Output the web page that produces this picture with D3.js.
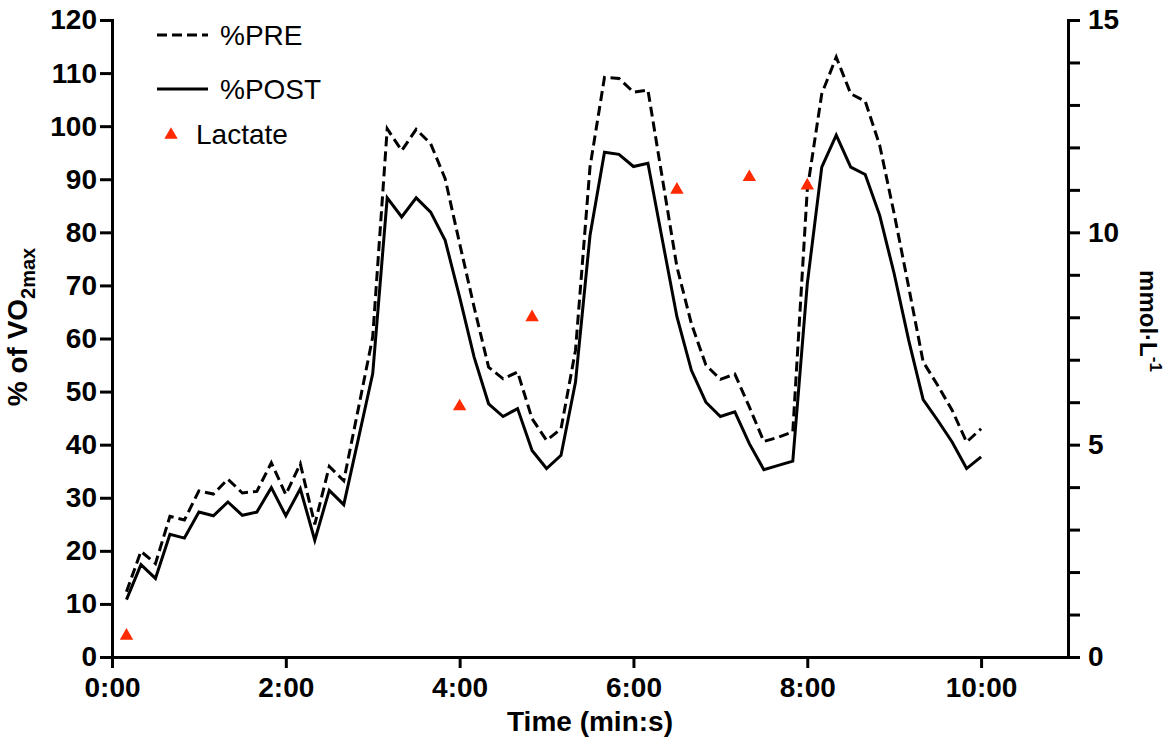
<!DOCTYPE html>
<html>
<head>
<meta charset="utf-8">
<script src="https://cdn.jsdelivr.net/npm/d3@7"></script>
<style>
  body { margin: 0; background: #fff; }
  svg { display: block; font-family: "Liberation Sans", Arial, Helvetica, sans-serif; }
</style>
</head>
<body>
<svg width="1168" height="742"></svg>
<script>
// time of each sample, seconds
const times = [10, 20, 30, 40, 50, 60, 70, 80, 90, 100,
  110, 120, 130, 140, 150, 160, 170, 180, 190, 200,
  210, 220, 230, 240, 250, 260, 270, 280, 290, 300,
  310, 320, 330, 340, 350, 360, 370, 380, 390, 400,
  410, 420, 430, 440, 450, 460, 470, 480, 490, 500,
  510, 520, 530, 540, 550, 560, 570, 580, 590, 600];

// % of VO2max, pre
const preValues = [12.3, 19.9, 17.6, 26.5, 25.8, 31.3, 30.7, 33.5, 30.9, 31.2,
  36.6, 30.6, 36.4, 25.0, 35.9, 33.2, 46.7, 60.3, 99.5, 95.4,
  99.4, 96.7, 90.1, 77.9, 65.9, 54.6, 52.4, 53.7, 44.9, 40.8,
  43.0, 57.8, 92.3, 109.2, 109.0, 106.4, 106.8, 90.1, 73.5, 62.8,
  55.0, 52.3, 53.3, 47.1, 40.6, 41.4, 42.4, 88.0, 106.1, 113.0,
  106.1, 104.7, 96.4, 83.5, 69.7, 55.6, 51.2, 46.5, 40.5, 43.0];

// % of VO2max, post
const postValues = [10.8, 17.4, 14.8, 23.1, 22.4, 27.3, 26.6, 29.2, 26.7, 27.3,
  31.9, 26.6, 31.7, 22.0, 31.4, 28.7, 41.0, 53.4, 86.5, 82.9,
  86.5, 83.8, 78.5, 67.8, 56.5, 47.7, 45.3, 46.8, 38.9, 35.5,
  38.0, 51.8, 79.4, 95.1, 94.7, 92.4, 93.0, 78.5, 64.1, 54.0,
  48.0, 45.3, 46.2, 40.2, 35.3, 36.1, 36.9, 70.3, 92.3, 98.3,
  92.3, 90.9, 83.2, 72.2, 59.7, 48.5, 44.6, 40.5, 35.5, 37.7];

// lactate, mmol/L
const lactateTimes = [10, 240, 290, 390, 440, 480];
const lactateValues = [0.5, 5.9, 8.0, 11.0, 11.3, 11.1];

const xTicks = [0, 120, 240, 360, 480, 600];
const yTicks = [0, 10, 20, 30, 40, 50, 60, 70, 80, 90, 100, 110, 120];
const yRightTicks = [0, 1, 2, 3, 4, 5, 6, 7, 8, 9, 10, 11, 12, 13, 14, 15];
const yRightLabels = [0, 5, 10, 15];

(function () {
  const svg = d3.select('svg');
  const red = '#ff2a00';

  const plotLeft = 112, plotRight = 1068, plotTop = 20, plotBottom = 657;

  const x = d3.scaleLinear().domain([0, 660]).range([plotLeft, plotRight]);
  const y = d3.scaleLinear().domain([0, 120]).range([plotBottom, plotTop]);
  const yR = d3.scaleLinear().domain([0, 15]).range([plotBottom, plotTop]);

  const fmtTime = s => `${Math.floor(s / 60)}:${String(s % 60).padStart(2, '0')}`;

  const styleAxis = g => {
    g.selectAll('.domain').attr('stroke-width', 3).attr('stroke-linecap', 'square');
    g.selectAll('.tick line').attr('stroke-width', 3);
    g.selectAll('.tick text')
      .attr('font-size', 28)
      .attr('font-weight', 'bold')
      .attr('fill', '#000')
      .attr('font-family', '"Liberation Sans", Arial, sans-serif');
  };

  // axes
  svg.append('g')
      .attr('transform', `translate(0,${plotBottom})`)
      .call(d3.axisBottom(x).tickValues(xTicks).tickFormat(fmtTime)
        .tickSize(11).tickSizeOuter(0).tickPadding(9))
      .call(styleAxis);

  svg.append('g')
      .attr('transform', `translate(${plotLeft},0)`)
      .call(d3.axisLeft(y).tickValues(yTicks).tickSize(12).tickSizeOuter(0).tickPadding(3))
      .call(styleAxis);

  svg.append('g')
      .attr('transform', `translate(${plotRight},0)`)
      .call(d3.axisRight(yR).tickValues(yRightTicks)
        .tickFormat(d => yRightLabels.includes(d) ? d : '')
        .tickSize(12).tickSizeOuter(0).tickPadding(8))
      .call(styleAxis);

  // lines
  const rows = times.map((t, i) => ({ t, pre: preValues[i], post: postValues[i] }));

  svg.append('path')
      .datum(rows)
      .attr('fill', 'none')
      .attr('stroke', '#000')
      .attr('stroke-width', 3)
      .attr('stroke-dasharray', '10,5')
      .attr('d', d3.line().x(d => x(d.t)).y(d => y(d.pre)));

  svg.append('path')
      .datum(rows)
      .attr('fill', 'none')
      .attr('stroke', '#000')
      .attr('stroke-width', 3)
      .attr('d', d3.line().x(d => x(d.t)).y(d => y(d.post)));

  // lactate triangles
  const tri = d3.symbol().type(d3.symbolTriangle).size(78);
  svg.selectAll('.lac')
    .data(lactateTimes.map((t, i) => ({ t, v: lactateValues[i] })))
    .enter().append('path')
      .attr('class', 'lac')
      .attr('transform', d => `translate(${x(d.t)},${yR(d.v)})`)
      .attr('d', tri)
      .attr('fill', red);

  // axis titles
  svg.append('text')
      .attr('transform', 'rotate(-90)')
      .attr('x', -327).attr('y', 27)
      .attr('text-anchor', 'middle')
      .attr('font-size', 28)
      .attr('font-weight', 'bold')
      .text('% of VO')
    .append('tspan')
      .attr('font-size', 20)
      .attr('dy', 8)
      .text('2max');

  svg.append('text')
      .attr('x', (plotLeft + plotRight) / 2).attr('y', 731)
      .attr('text-anchor', 'middle')
      .attr('font-size', 28)
      .attr('font-weight', 'bold')
      .text('Time (min:s)');

  svg.append('text')
      .attr('transform', 'rotate(90)')
      .attr('x', 321).attr('y', -1140)
      .attr('text-anchor', 'middle')
      .attr('font-size', 24)
      .attr('font-weight', 'bold')
      .text('mmol·L')
    .append('tspan')
      .attr('font-size', 17)
      .attr('dy', -10)
      .text('-1');

  // legend
  const legend = svg.append('g');
  legend.append('line')
      .attr('x1', 157).attr('x2', 208).attr('y1', 35).attr('y2', 35)
      .attr('stroke', '#000').attr('stroke-width', 3).attr('stroke-dasharray', '10,5');
  legend.append('text').attr('x', 220).attr('y', 45).attr('font-size', 28).text('%PRE');

  legend.append('line')
      .attr('x1', 157).attr('x2', 208).attr('y1', 89).attr('y2', 89)
      .attr('stroke', '#000').attr('stroke-width', 3);
  legend.append('text').attr('x', 220).attr('y', 99).attr('font-size', 28).text('%POST');

  legend.append('path')
      .attr('transform', 'translate(171,135)')
      .attr('d', tri)
      .attr('fill', red);
  legend.append('text').attr('x', 196).attr('y', 144).attr('font-size', 28).text('Lactate');
})();
</script>
</body>
</html>
